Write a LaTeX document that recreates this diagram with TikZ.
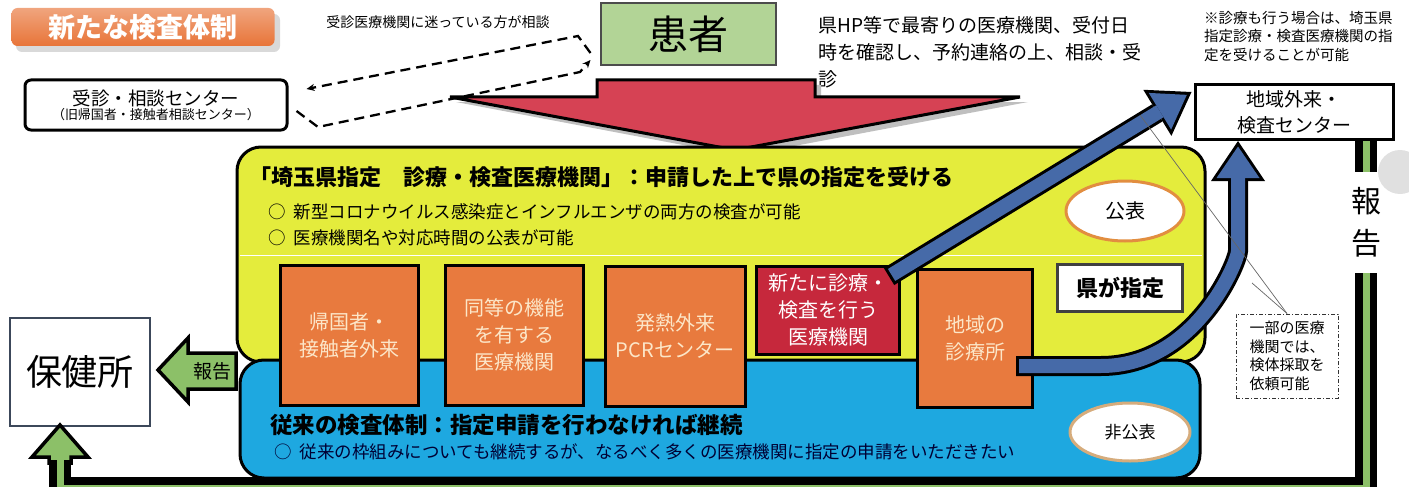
\documentclass[tikz,border=0pt]{standalone}
\usepackage{fontspec}
\setmainfont{Noto Sans CJK JP}
\usetikzlibrary{arrows.meta}
\usetikzlibrary{calc}
\usetikzlibrary{positioning}
\usetikzlibrary{shapes.geometric}
\definecolor{torange}{RGB}{232,116,56}
\definecolor{kgreen}{RGB}{178,212,150}
\definecolor{ared}{RGB}{214,66,84}
\definecolor{zyellow}{RGB}{228,236,60}
\definecolor{zblue}{RGB}{30,168,224}
\definecolor{borange}{RGB}{232,122,62}
\definecolor{bred}{RGB}{198,40,60}
\definecolor{btext}{RGB}{252,230,200}
\definecolor{ablue}{RGB}{70,106,168}
\definecolor{rgreen}{RGB}{140,192,104}
\definecolor{eorange}{RGB}{226,142,64}
\definecolor{etan}{RGB}{214,172,124}
\definecolor{slate}{RGB}{60,72,90}
\tikzset{
  zone/.style = {draw, line width = 3pt, rounded corners = 24pt},
  obox/.style = {draw, line width = 3pt, fill = borange, text = btext, align = center, inner sep = 0, font = \fontsize{20}{27}\selectfont},
  wbox/.style = {draw, fill = white, align = center, inner sep = 0},
  pubellipse/.style = {ellipse, draw = eorange, line width = 3pt, fill = white, inner sep = 0},
  greenline/.style = {draw = black, line width = 7.5pt, double = rgreen, double distance = 7pt},
  greenhead/.style = {draw = black, line width = 3.5pt, fill = rgreen, line join = miter},
  arrowout/.style = {draw = black, line width = 20pt, -{Triangle[length = 40pt, width = 54pt, line width = 0pt]}},
  arrowin/.style = {draw = ablue, line width = 14pt, shorten > = 5.5pt, shorten < = 3pt, -{Triangle[length = 31.5pt, width = 43pt, line width = 0pt]}},
  dasharrow/.style = {dash pattern = on 10pt off 6pt, line width = 2.3pt, -{Stealth[length = 8pt, width = 7pt]}}
}

\begin{document}
\begin{tikzpicture}[x = 1pt, y = -1pt]
  \useasboundingbox (0, 0) rectangle (1409, 487);
  \fill [black!15, rounded corners = 6pt] (16, 14) rectangle (280, 52);
  \node [rounded corners = 6pt, top color = torange!65, bottom color = torange, minimum width = 263pt, minimum height = 38pt, text = white, font = \fontsize{27}{30}\selectfont\bfseries] (title) at (143, 27) {新たな検査体制};
  \node [font = \fontsize{14}{16}\selectfont] (soudan) at (438, 22) {受診医療機関に迷っている方が相談};
  \node [wbox, line width = 3pt, rounded corners = 6pt, minimum width = 262pt, minimum height = 50pt] (center) at (156, 105) {\fontsize{18.5}{20}\selectfont 受診・相談センター\\\fontsize{13}{15}\selectfont （旧帰国者・接触者相談センター）};
  \node [draw = black!70, line width = 2pt, fill = kgreen, minimum width = 175pt, minimum height = 62pt, font = \fontsize{40}{44}\selectfont] (kanja) at (688, 34) {患者};
  \draw [dasharrow] ($(kanja.west) + (-9, 19)$) -- (578, 36) -- ($(center.east) + (18, -16)$);
  \draw [dasharrow] ($(center.east) + (8, 6)$) -- (318, 127) -- (580, 72) -- ($(kanja.west) + (-9, 26)$);
  \node [anchor = north west, align = left, inner sep = 0, font = \fontsize{19}{27}\selectfont] (route) at (818, 16) {県HP等で最寄りの医療機関、受付日\\時を確認し、予約連絡の上、相談・受\\診};
  \node [anchor = north west, align = left, inner sep = 0, font = \fontsize{14.5}{18.5}\selectfont] (note) at (1204, 11) {※診療も行う場合は、埼玉県\\指定診療・検査医療機関の指\\定を受けることが可能};
  \node [wbox, line width = 3pt, minimum width = 198pt, minimum height = 55pt, font = \fontsize{19}{26}\selectfont] (region) at (1294, 112) {地域外来・\\検査センター};

  \fill [black!12] (1400, 172) circle (22);
  \draw [greenline] (region.south -| 1366, 0) -- (1366, 172);
  \node [font = \fontsize{30}{42}\selectfont, align = center] (report) at (1366, 222) {報\\告};
  \draw [greenline] (1366, 273) -- (1366, 488) -- (60, 488) -- (60, 455);

  \fill [black!25] (603, 85) -- (821, 85) -- (821, 102) -- (1028, 102) -- (741, 156) -- (456, 102) -- (603, 102) -- cycle;
  \draw [line width = 3pt, fill = ared, line join = miter] (597, 80) -- (815, 80) -- (815, 97) -- (1020, 97) -- (735, 150) -- (450, 97) -- (597, 97) -- cycle;

  \draw [zone, fill = zyellow] (237, 147) rectangle (1205, 362);
  \draw [white, line width = 1pt] (240, 255) -- (1202, 255);
  \draw [zone, fill = zblue] (240, 360) rectangle (1200, 478);

  \node [anchor = west, inner sep = 0, font = \fontsize{22}{24}\selectfont\bfseries] (ytitle) at (249, 177) {「埼玉県指定　診療・検査医療機関」：申請した上で県の指定を受ける};
  \node [anchor = north west, align = left, inner sep = 0, font = \fontsize{17.5}{26}\selectfont] (ybullet) at (268, 203) {○\hspace{8pt}新型コロナウイルス感染症とインフルエンザの両方の検査が可能\\○\hspace{8pt}医療機関名や対応時間の公表が可能};
  \node [pubellipse, minimum width = 118pt, minimum height = 60pt, font = \fontsize{20}{22}\selectfont] (pub) at (1125, 211) {公表};
  \node [wbox, draw = black!75, line width = 3pt, minimum width = 125pt, minimum height = 47pt, font = \fontsize{22}{24}\selectfont\bfseries] (pref) at (1120, 288) {県が指定};

  \node [anchor = west, inner sep = 0, font = \fontsize{22.5}{24}\selectfont\bfseries] (btitle) at (270, 425) {従来の検査体制：指定申請を行わなければ継続};
  \node [anchor = west, inner sep = 0, text = black!80!blue, font = \fontsize{17.5}{20}\selectfont] (bbullet) at (274, 452) {○\hspace{8pt}従来の枠組みについても継続するが、なるべく多くの医療機関に指定の申請をいただきたい};
  \node [pubellipse, draw = etan, minimum width = 120pt, minimum height = 58pt, font = \fontsize{17}{20}\selectfont] (nonpub) at (1130, 432) {非公表};

  \node [obox, minimum width = 138pt, minimum height = 140pt] (returnee) at (349, 335) {帰国者・\\接触者外来};
  \node [obox, minimum width = 138pt, minimum height = 140pt] (equiv) at (514, 335) {同等の機能\\を有する\\医療機関};
  \node [obox, minimum width = 140pt, minimum height = 140pt] (fever) at (675, 336) {発熱外来\\PCRセンター};
  \node [obox, fill = bred, text = white, minimum width = 143pt, minimum height = 88pt] (newclinic) at (828, 310) {新たに診療・\\検査を行う\\医療機関};
  \node [obox, minimum width = 115pt, minimum height = 138pt] (local) at (975, 338) {地域の\\診療所};

  \draw [arrowout] ($(newclinic.north east) + (-12, 12)$) -- ($(region.west) + (-2, -20)$);
  \draw [arrowin] ($(newclinic.north east) + (-12, 12)$) -- ($(region.west) + (-2, -20)$);
  \draw [arrowout] ($(local.east) + (-18, 28)$) -- ++(85, 0) .. controls ++(95, 0) and ($(region.south) + (-56, 120)$) .. ($(region.south) + (-56, 110)$) -- ($(region.south) + (-56, 0)$);
  \draw [arrowin] ($(local.east) + (-18, 28)$) -- ++(85, 0) .. controls ++(95, 0) and ($(region.south) + (-56, 120)$) .. ($(region.south) + (-56, 110)$) -- ($(region.south) + (-56, 0)$);

  \node [draw = black!80, line width = 1pt, dash pattern = on 4pt off 2pt on 1pt off 2pt, minimum width = 102pt, minimum height = 84pt, align = left, inner sep = 0, font = \fontsize{15}{18.5}\selectfont] (sample) at (1287, 356) {一部の医療\\機関では、\\検体採取を\\依頼可能};
  \draw [black!60, line width = 0.7pt] (sample.north) -- (1140, 115);
  \draw [black!60, line width = 0.7pt] (sample.north) -- (1252, 283);

  \node [wbox, draw = slate, line width = 2pt, minimum width = 140pt, minimum height = 108pt, font = \fontsize{36}{40}\selectfont] (hoken) at (80, 372) {保健所};
  \draw [greenhead] (158, 370) -- (188, 338) -- (188, 353) -- (236, 353) -- (236, 389) -- (188, 389) -- (188, 402) -- cycle;
  \node [font = \fontsize{19}{20}\selectfont] (reportleft) at (212, 371) {報告};
  \draw [greenhead] ($(hoken.south) + (-20, -2)$) -- ++(28, 32) -- ++(-17, 0) -- ++(0, 6) -- ++(-22, 0) -- ++(0, -6) -- ++(-17, 0) -- cycle;
  \draw [greenline] (60, 478) -- (60, 460);
\end{tikzpicture}
\end{document}
